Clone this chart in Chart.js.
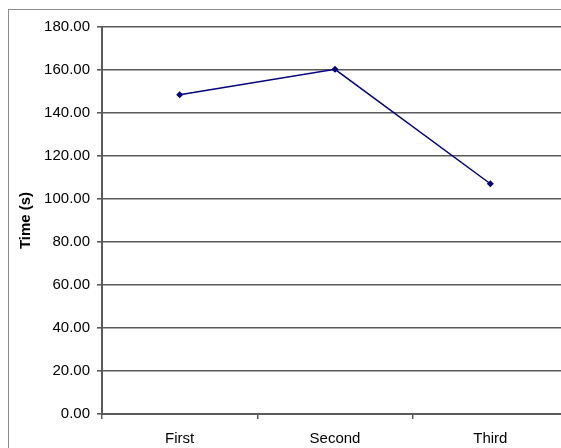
<!DOCTYPE html>
<html>
<head>
<meta charset="utf-8">
<title>Time (s)</title>
<script src="https://cdn.jsdelivr.net/npm/chart.js@4/dist/chart.umd.min.js"></script>
<style>
  html, body { margin: 0; padding: 0; background: #fff; overflow: hidden; }
  #wrap { width: 561px; height: 448px; overflow: hidden; position: relative; }
  canvas { display: block; position: absolute; left: 0; top: 0; }
</style>
</head>
<body>
<div id="wrap"><canvas id="c" width="600" height="460"></canvas></div>
<script>
// Run labels and measured times
const categories = ['First', 'Second', 'Third'];
const times = [148.5, 160.3, 107.1];
// Value axis ticks
const yTickValues = [0, 20, 40, 60, 80, 100, 120, 140, 160, 180];

const FONT = '"Liberation Sans", Arial, sans-serif';
const NAVY = '#000080';
const RULE = '#5a5a5a';

// Plain white page with the grey frame of the chart object
const framePlugin = {
  id: 'frame',
  beforeDraw(chart) {
    const ctx = chart.ctx;
    ctx.save();
    ctx.fillStyle = '#fff';
    ctx.fillRect(0, 0, chart.width, chart.height);
    ctx.strokeStyle = '#8c8c8c';
    ctx.lineWidth = 1;
    ctx.strokeRect(8.5, 9.5, 800, 800);
    ctx.restore();
  }
};

new Chart(document.getElementById('c'), {
  type: 'line',
  data: {
    labels: categories,
    datasets: [{
      data: times,
      borderColor: NAVY,
      backgroundColor: NAVY,
      borderWidth: 1.5,
      pointStyle: 'rectRot',
      pointRadius: 3.5,
      pointBorderWidth: 0,
      pointBackgroundColor: NAVY,
      tension: 0,
      fill: false
    }]
  },
  options: {
    responsive: false,
    animation: false,
    devicePixelRatio: 1,
    layout: { padding: { left: 17, top: 27, right: 32, bottom: 0 } },
    plugins: {
      legend: { display: false },
      tooltip: { enabled: false }
    },
    scales: {
      x: {
        type: 'category',
        offset: true,
        grid: {
          offset: true,
          drawOnChartArea: false,
          drawTicks: true,
          tickLength: 5,
          lineWidth: 1.5,
          color: RULE
        },
        border: { color: RULE, width: 2 },
        ticks: {
          color: '#000',
          padding: 11,
          maxRotation: 0,
          font: { family: FONT, size: 15 }
        },
        afterFit(scale) { scale.height = 46; }
      },
      y: {
        min: 0,
        max: 180,
        afterBuildTicks(scale) {
          scale.ticks = yTickValues.map(v => ({ value: v }));
        },
        grid: {
          color: RULE,
          lineWidth: 1.6,
          drawTicks: true,
          tickLength: 5
        },
        border: { color: RULE, width: 2 },
        ticks: {
          color: '#000',
          padding: 7,
          font: { family: FONT, size: 15 },
          callback: v => Number(v).toFixed(2)
        },
        title: {
          display: true,
          text: 'Time (s)',
          color: '#000',
          padding: 0,
          font: { family: FONT, size: 15, weight: 'bold' }
        },
        afterFit(scale) { scale.width = 85; }
      }
    }
  },
  plugins: [framePlugin]
});
</script>
</body>
</html>
